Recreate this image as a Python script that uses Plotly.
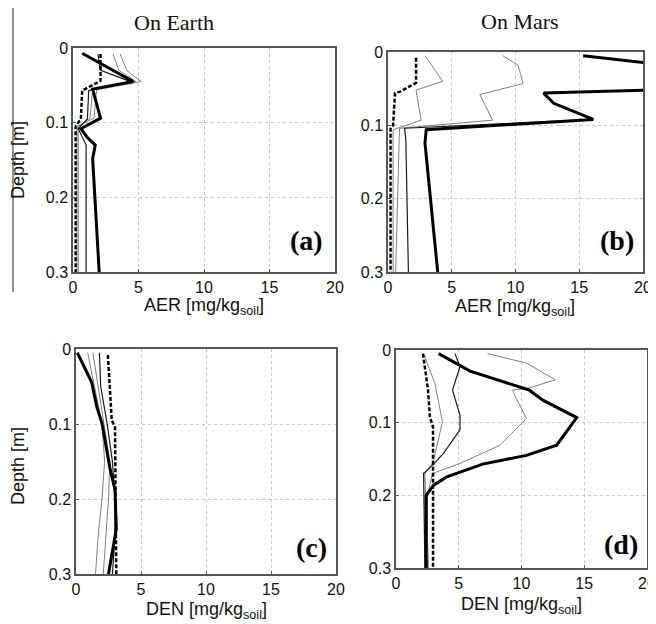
import plotly.graph_objects as go

# ---------------- data ----------------
# Panel (a): On Earth, AER [mg/kg_soil] vs depth [m]
a_thick_d = [0.007, 0.045, 0.055, 0.094, 0.108, 0.12, 0.13, 0.148, 0.3]
a_thick_x = [0.7, 4.6, 1.5, 2.1, 0.6, 1.1, 1.7, 1.5, 2.0]
a_dash_d = [0.008, 0.044, 0.057, 0.095, 0.105, 0.3]
a_dash_x = [2.1, 2.1, 0.7, 0.6, 0.2, 0.2]
a_thin_d = [0.008, 0.03, 0.045, 0.057, 0.095, 0.108, 0.13, 0.3]
a_thin_x = [1.9, 2.1, 4.4, 1.2, 1.1, 0.4, 1.0, 1.0]
a_grayA_d = [0.008, 0.03, 0.045, 0.056, 0.094, 0.105, 0.3]
a_grayA_x = [3.05, 3.5, 4.8, 1.5, 1.3, 0.4, 0.4]
a_grayB_d = [0.008, 0.03, 0.045, 0.056, 0.094, 0.105, 0.3]
a_grayB_x = [3.6, 4.1, 5.2, 1.8, 1.6, 0.3, 0.3]

# Panel (b): On Mars, AER
b_thick_d = [0.005, 0.03, 0.0515, 0.056, 0.07, 0.092, 0.106, 0.124, 0.3]
b_thick_x = [15.3, 28.0, 21.0, 12.2, 13.0, 16.1, 3.0, 2.9, 3.9]
b_thin_d = [0.092, 0.104, 0.12, 0.3]
b_thin_x = [16.0, 1.3, 1.4, 1.6]
b_grayA_d = [0.005, 0.018, 0.043, 0.058, 0.093, 0.104, 0.3]
b_grayA_x = [9.0, 10.2, 10.6, 7.2, 8.2, 0.9, 0.6]
b_grayB_d = [0.005, 0.04, 0.052, 0.093, 0.106, 0.3]
b_grayB_x = [2.9, 4.3, 2.2, 2.6, 0.4, 0.4]
b_dash_d = [0.008, 0.042, 0.054, 0.056, 0.1, 0.105, 0.3]
b_dash_x = [2.2, 2.2, 0.95, 0.55, 0.4, 0.2, 0.2]

# Panel (c): On Earth, DEN
c_thick_d = [0.005, 0.044, 0.077, 0.099, 0.158, 0.188, 0.24, 0.3]
c_thick_x = [0.1, 1.2, 1.6, 2.0, 2.6, 3.0, 3.1, 2.5]
c_dash_d = [0.008, 0.045, 0.095, 0.104, 0.3]
c_dash_x = [2.45, 2.6, 2.75, 3.0, 3.1]
c_lines_d = [0.005, 0.05, 0.1, 0.15, 0.2, 0.25, 0.3]
c_grayA_x = [0.9, 1.4, 2.0, 2.2, 2.0, 1.7, 1.5]
c_grayB_x = [1.3, 1.7, 2.2, 2.6, 2.5, 2.3, 2.1]
c_thin_x = [1.8, 1.9, 2.4, 2.8, 3.0, 3.0, 2.8]

# Panel (d): On Mars, DEN
d_thick_d = [0.005, 0.029, 0.055, 0.069, 0.093, 0.131, 0.145, 0.157, 0.175, 0.186, 0.2, 0.3]
d_thick_x = [3.4, 5.9, 10.6, 11.7, 14.4, 12.8, 10.4, 6.9, 4.0, 3.0, 2.4, 2.4]
d_grayA_d = [0.005, 0.018, 0.041, 0.053, 0.055, 0.064, 0.094, 0.131, 0.156, 0.17, 0.2, 0.3]
d_grayA_x = [7.3, 10.4, 12.7, 10.5, 9.3, 9.5, 10.4, 8.3, 5.1, 2.9, 2.5, 2.5]
d_thin_d = [0.005, 0.023, 0.055, 0.09, 0.11, 0.142, 0.157, 0.17, 0.3]
d_thin_x = [4.7, 5.1, 4.5, 5.1, 5.1, 3.8, 3.0, 2.2, 2.3]
d_grayB_d = [0.005, 0.046, 0.099, 0.155, 0.17, 0.3]
d_grayB_x = [2.2, 3.1, 3.7, 2.95, 2.3, 2.6]
d_dash_d = [0.005, 0.055, 0.092, 0.106, 0.3]
d_dash_x = [2.15, 2.55, 2.7, 2.95, 2.95]

x_ticks = [0, 5, 10, 15, 20]
y_ticks = [0, 0.1, 0.2, 0.3]
y_ticktext = ["0", "0.1", "0.2", "0.3"]
panel_labels = ["(a)", "(b)", "(c)", "(d)"]
col_titles = ["On Earth", "On Mars"]
x_titles = ["AER [mg/kg<sub>soil</sub>]", "AER [mg/kg<sub>soil</sub>]",
            "DEN [mg/kg<sub>soil</sub>]", "DEN [mg/kg<sub>soil</sub>]"]
y_title = "Depth [m]"

# ---------------- styles ----------------
THICK = dict(color="#000000", width=3)
THIN = dict(color="#1a1a1a", width=1.2)
GRAY = dict(color="#808080", width=1)
DASH = dict(color="#000000", width=2.5, dash="4px,2px")

OFF = 8  # page body margin
W, H = 656 - OFF, 624 - OFF
fig = go.Figure()

def add(x, d, line, ax):
    fig.add_trace(go.Scatter(x=x, y=d, mode="lines", line=line,
                             xaxis="x" + ax, yaxis="y" + ax,
                             showlegend=False, hoverinfo="skip"))

# panel a -> axis "" (x/y), b -> 2, c -> 3, d -> 4
add(a_grayA_x, a_grayA_d, GRAY, "")
add(a_grayB_x, a_grayB_d, GRAY, "")
add(a_thin_x, a_thin_d, THIN, "")
add(a_dash_x, a_dash_d, DASH, "")
add(a_thick_x, a_thick_d, THICK, "")

add(b_grayA_x, b_grayA_d, GRAY, "2")
add(b_grayB_x, b_grayB_d, GRAY, "2")
add(b_thin_x, b_thin_d, THIN, "2")
add(b_dash_x, b_dash_d, DASH, "2")
add(b_thick_x, b_thick_d, THICK, "2")

add(c_grayA_x, c_lines_d, GRAY, "3")
add(c_grayB_x, c_lines_d, GRAY, "3")
add(c_thin_x, c_lines_d, THIN, "3")
add(c_dash_x, c_dash_d, DASH, "3")
add(c_thick_x, c_thick_d, THICK, "3")

add(d_grayA_x, d_grayA_d, GRAY, "4")
add(d_grayB_x, d_grayB_d, GRAY, "4")
add(d_thin_x, d_thin_d, THIN, "4")
add(d_dash_x, d_dash_d, DASH, "4")
add(d_thick_x, d_thick_d, THICK, "4")

# pixel boxes (left, right, top, bottom) in screen pixels for each panel
boxes = [(73, 335, 48, 272), (388, 643, 52, 272), (76, 336, 349, 574), (396, 647, 350, 568)]
FONT = "Liberation Sans, Arial, sans-serif"
SERIF = "Liberation Serif, Times New Roman, serif"

def px_x(p): return (p - OFF) / W
def px_y(p): return 1 - (p - OFF) / H

axis_common = dict(showline=True, mirror=True, linecolor="#555555", linewidth=1.5,
                   showgrid=True, gridcolor="#c8c8c8", griddash="dot", gridwidth=1,
                   zeroline=False, ticks="inside", ticklen=3, tickcolor="#555555",
                   automargin=False, ticklabeloverflow="allow",
                   tickfont=dict(family=FONT, size=16, color="#111111"))
layout = {}
names = ["", "2", "3", "4"]
for i, (l, r, t, b) in enumerate(boxes):
    n = names[i]
    layout["xaxis" + n] = dict(axis_common, domain=[px_x(l), px_x(r)], range=[0, 20],
                               tickvals=x_ticks, anchor="y" + n)
    layout["yaxis" + n] = dict(axis_common, domain=[px_y(b), px_y(t)], range=[0.3, 0],
                               tickvals=y_ticks, ticktext=y_ticktext, anchor="x" + n)

annotations = []

def note(text, xp, yp, font, angle=0):
    annotations.append(dict(text=text, x=px_x(xp), y=px_y(yp), xref="paper", yref="paper",
                            xanchor="center", yanchor="middle", showarrow=False,
                            textangle=angle, font=font))

# column titles
note(col_titles[0], 174, 23, dict(family=SERIF, size=22, color="#111"))
note(col_titles[1], 520, 22, dict(family=SERIF, size=22, color="#111"))
# x titles
x_title_pos = [(204, 306), (515, 307), (206, 610), (521, 605)]
for (xp, yp), txt in zip(x_title_pos, x_titles):
    note(txt, xp, yp, dict(family=FONT, size=18, color="#111"))
# y titles
for yp in (160, 466):
    note(y_title, 18, yp, dict(family=FONT, size=18, color="#111"), angle=-90)
# panel labels
lab_pos = [(306, 240), (617, 240), (311, 547), (621, 544)]
for (xp, yp), txt in zip(lab_pos, panel_labels):
    note("<b>" + txt + "</b>", xp, yp, dict(family=SERIF, size=28, color="#000"))

shapes = [dict(type="line", xref="paper", yref="paper", x0=px_x(13), x1=px_x(13),
               y0=px_y(8), y1=px_y(292), line=dict(color="#222", width=1))]

fig.update_layout(width=W, height=H, margin=dict(l=0, r=0, t=0, b=0, pad=0),
                  autosize=False, template="none",
                  paper_bgcolor="white", plot_bgcolor="white",
                  annotations=annotations, shapes=shapes, **layout)

fig.write_html("out.html")
